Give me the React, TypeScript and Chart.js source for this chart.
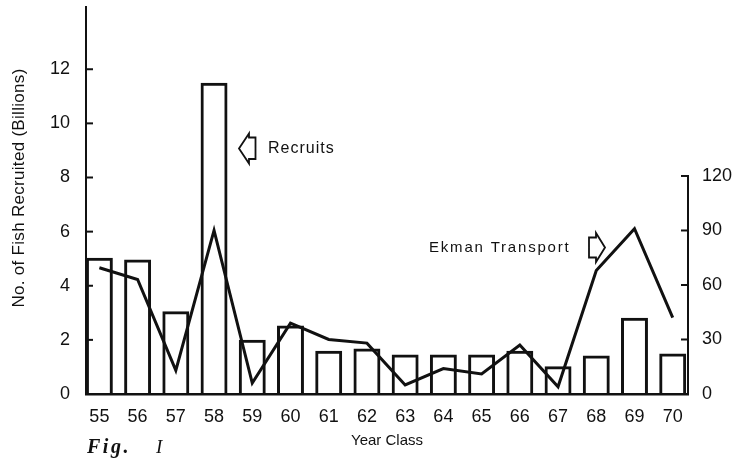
import React, { useEffect, useRef } from 'react';
import { Chart, registerables } from 'chart.js';

Chart.register(...registerables);

// Year classes (x categories)
const YEARS = [55, 56, 57, 58, 59, 60, 61, 62, 63, 64, 65, 66, 67, 68, 69, 70];
// No. of fish recruited (billions) – bars, left axis
const RECRUITS = [5.03, 4.97, 3.06, 11.5, 2.0, 2.53, 1.6, 1.68, 1.46, 1.46, 1.46, 1.6, 1.03, 1.42, 2.82, 1.5];
// Ekman transport – line, right axis
const EKMAN = [69.5, 63, 13, 90, 6, 39, 30, 28, 5, 14, 11, 27, 4, 68, 91, 42];
// Tick values
const LEFT_TICKS = [0, 2, 4, 6, 8, 10, 12];
const RIGHT_TICKS = [0, 30, 60, 90, 120];
const X_TICKS = YEARS;

const INK = '#111111';
const SANS = '"Liberation Sans", Arial, Helvetica, sans-serif';
const SERIF = '"Liberation Serif", "Times New Roman", serif';

const decorPlugin = {
  id: 'decor',
  afterDraw(chart: any) {
    const { ctx, chartArea, scales } = chart;
    const y = scales.y;
    const y2 = scales.y2;
    ctx.save();
    ctx.strokeStyle = INK;
    ctx.fillStyle = INK;
    ctx.lineCap = 'butt';

    // inward tick marks on left axis
    ctx.lineWidth = 2;
    LEFT_TICKS.forEach((v) => {
      if (v === 0) return;
      const py = y.getPixelForValue(v);
      ctx.beginPath();
      ctx.moveTo(chartArea.left, py);
      ctx.lineTo(chartArea.left + 7, py);
      ctx.stroke();
    });

    // right axis line from 0 to 120 with inward ticks
    const rx = chartArea.right;
    ctx.lineWidth = 2;
    ctx.beginPath();
    ctx.moveTo(rx, y2.getPixelForValue(0));
    ctx.lineTo(rx, y2.getPixelForValue(RIGHT_TICKS[RIGHT_TICKS.length - 1]) - 1);
    ctx.stroke();
    RIGHT_TICKS.forEach((v) => {
      if (v === 0) return;
      const py = y2.getPixelForValue(v);
      ctx.beginPath();
      ctx.moveTo(rx - 7, py);
      ctx.lineTo(rx, py);
      ctx.stroke();
    });

    // "Recruits" annotation with left-pointing outline arrow
    ctx.lineWidth = 1.8;
    ctx.lineJoin = 'miter';
    const ax = 239, ay = 148.5;
    ctx.beginPath();
    ctx.moveTo(ax, ay);
    ctx.lineTo(ax + 10, ay - 15);
    ctx.lineTo(ax + 10, ay - 11);
    ctx.lineTo(ax + 16.5, ay - 11);
    ctx.lineTo(ax + 16.5, ay + 10.5);
    ctx.lineTo(ax + 10, ay + 10.5);
    ctx.lineTo(ax + 10, ay + 15);
    ctx.closePath();
    ctx.stroke();

    // "Ekman Transport" right-pointing outline arrow
    const bx = 605, by = 247.5;
    ctx.beginPath();
    ctx.moveTo(bx, by);
    ctx.lineTo(bx - 9, by - 14.5);
    ctx.lineTo(bx - 9, by - 10);
    ctx.lineTo(bx - 16, by - 10);
    ctx.lineTo(bx - 16, by + 10);
    ctx.lineTo(bx - 9, by + 10);
    ctx.lineTo(bx - 9, by + 14.5);
    ctx.closePath();
    ctx.stroke();

    ctx.textBaseline = 'middle';
    ctx.textAlign = 'left';
    (ctx as any).letterSpacing = '1px';
    ctx.font = `16px ${SANS}`;
    ctx.fillText('Recruits', 268, 149);
    (ctx as any).letterSpacing = '1.8px';
    ctx.font = `15px ${SANS}`;
    ctx.fillText('Ekman Transport', 429, 248);

    // Left axis title (rotated)
    (ctx as any).letterSpacing = '0.3px';
    ctx.save();
    ctx.translate(19, 188);
    ctx.rotate(-Math.PI / 2);
    ctx.textAlign = 'center';
    ctx.font = `17px ${SANS}`;
    ctx.fillText('No. of Fish Recruited (Billions)', 0, 0);
    ctx.restore();

    // Figure caption
    ctx.textAlign = 'left';
    ctx.textBaseline = 'alphabetic';
    (ctx as any).letterSpacing = '2.5px';
    ctx.font = `italic bold 20px ${SERIF}`;
    ctx.fillText('Fig.', 87, 453);
    (ctx as any).letterSpacing = '0px';
    ctx.font = `italic 19px ${SERIF}`;
    ctx.fillText('I', 156, 453);
    ctx.restore();
  },
};

export default function App() {
  const canvasRef = useRef<HTMLCanvasElement | null>(null);

  useEffect(() => {
    if (!canvasRef.current) return;
    const chart = new Chart(canvasRef.current, {
      type: 'bar',
      data: {
        datasets: [
          {
            type: 'line',
            label: 'Ekman Transport',
            data: YEARS.map((x, i) => ({ x, y: EKMAN[i] })),
            yAxisID: 'y2',
            borderColor: INK,
            borderWidth: 3,
            borderJoinStyle: 'miter',
            pointRadius: 0,
            tension: 0,
            fill: false,
          } as any,
          {
            type: 'bar',
            label: 'Recruits',
            data: YEARS.map((x, i) => ({ x, y: RECRUITS[i] })),
            yAxisID: 'y',
            borderColor: INK,
            backgroundColor: 'rgba(0,0,0,0)',
            borderWidth: 3,
            borderSkipped: 'start',
            barPercentage: 0.705,
            categoryPercentage: 1,
          } as any,
        ],
      },
      options: {
        responsive: false,
        animation: false,
        devicePixelRatio: 1,
        layout: { padding: { top: 7, left: 0, right: 0, bottom: 0 } },
        plugins: { legend: { display: false }, tooltip: { enabled: false } },
        scales: {
          x: {
            type: 'linear',
            min: 54.65,
            max: 70.4,
            offset: false,
            afterBuildTicks: (s: any) => {
              s.ticks = X_TICKS.map((v) => ({ value: v }));
            },
            afterFit: (s: any) => {
              s.height = 65;
              s.paddingLeft = 0;
              s.paddingRight = 0;
            },
            ticks: {
              callback: (v: any) => String(v),
              color: INK,
              font: { family: SANS, size: 18 },
              padding: 12,
              maxRotation: 0,
              autoSkip: false,
            },
            grid: { display: false, drawTicks: false },
            border: { display: true, width: 2.5, color: INK },
            title: {
              display: true,
              text: 'Year Class',
              color: INK,
              font: { family: SANS, size: 15 },
              padding: { top: 0, bottom: 9 },
            },
          },
          y: {
            type: 'linear',
            position: 'left',
            min: 0,
            max: 14.3,
            afterBuildTicks: (s: any) => {
              s.ticks = LEFT_TICKS.map((v) => ({ value: v }));
            },
            afterFit: (s: any) => {
              s.width = 86;
              s.paddingTop = 0;
              s.paddingBottom = 0;
            },
            ticks: {
              color: INK,
              font: { family: SANS, size: 18 },
              padding: 16,
            },
            grid: { display: false, drawTicks: false },
            border: { display: true, width: 2, color: INK },
            title: { display: false },
          },
          y2: {
            type: 'linear',
            position: 'right',
            min: 0,
            max: 213,
            afterBuildTicks: (s: any) => {
              s.ticks = RIGHT_TICKS.map((v) => ({ value: v }));
            },
            afterFit: (s: any) => {
              s.width = 48;
              s.paddingTop = 0;
              s.paddingBottom = 0;
            },
            ticks: {
              color: INK,
              font: { family: SANS, size: 18 },
              padding: 14,
            },
            grid: { display: false, drawTicks: false },
            border: { display: false },
          },
        },
      } as any,
      plugins: [decorPlugin],
    });
    return () => chart.destroy();
  }, []);

  return (
    <div style={{ position: 'fixed', left: 0, top: 0, width: 736, height: 459, background: '#fff' }}>
      <canvas ref={canvasRef} width={736} height={459} style={{ width: 736, height: 459, display: 'block' }} />
    </div>
  );
}
